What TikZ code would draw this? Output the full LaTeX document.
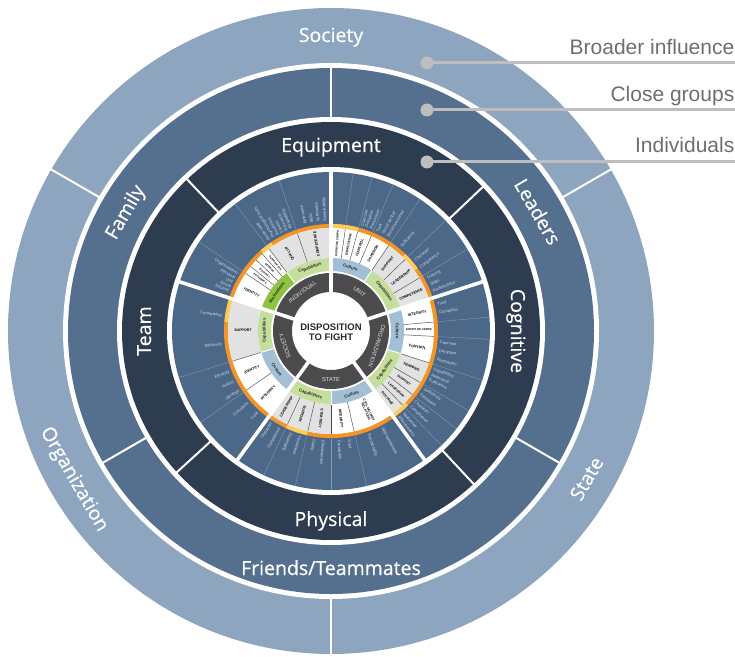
\documentclass[tikz,border=0pt]{standalone}
\usepackage{fontspec}
\setmainfont{Liberation Sans}
\newfontfamily\ringfont[FakeBold=0.5]{Open Sans}
\definecolor{outerc}{HTML}{8EA5BF}
\definecolor{closec}{HTML}{55708F}
\definecolor{darkc}{HTML}{2D3C4F}
\definecolor{bandc}{HTML}{4C6889}
\definecolor{orangec}{HTML}{F39426}
\definecolor{yellowc}{HTML}{FCCB58}
\definecolor{capc}{HTML}{C6DE9B}
\definecolor{motc}{HTML}{8CC441}
\definecolor{culc}{HTML}{A2BFD5}
\definecolor{greyringc}{HTML}{4B4B4D}
\definecolor{wordc}{HTML}{D3DCE6}
\definecolor{secgrey}{HTML}{E2E2E2}
\definecolor{seplinec}{HTML}{8399B3}
\definecolor{legtextc}{HTML}{6E6E70}
\definecolor{leglinec}{HTML}{BEBEBE}
\definecolor{centertextc}{HTML}{2A2A2A}
\newcounter{nn}
\newcommand{\annsec}[5]{\fill[#1] (#4:#3) arc[start angle=#4,end angle=#5,radius=#3] -- (#5:#2) arc[start angle=#5,end angle=#4,radius=#2] -- cycle;}
\newcommand{\bword}[2]{%
 \stepcounter{nn}%
 \pgfmathsetmacro{\myang}{mod(#1+540,360)-180}%
 \pgfmathtruncatemacro{\myout}{(\myang>-110 && \myang<128) ? 1 : 0}%
 \ifnum\myout=1
  \node[bwordst,rotate=#1,anchor=west] (bw\arabic{nn}) at (#1:109.5) {#2};%
 \else
  \node[bwordst,rotate=#1+180,anchor=east] (bw\arabic{nn}) at (#1:109.5) {#2};%
 \fi}
\newcommand{\ulab}[3][3.6]{%
 \stepcounter{nn}%
 \pgfmathsetmacro{\myang}{mod(#2+540,360)-180}%
 \pgfmathtruncatemacro{\myout}{(\myang>-110 && \myang<128) ? 1 : 0}%
 \ifnum\myout=1 \pgfmathsetmacro{\myrot}{#2}\else\pgfmathsetmacro{\myrot}{#2+180}\fi
 \node[ulabst,font=\bfseries\fontsize{#1}{#1}\selectfont,rotate=\myrot] (ul\arabic{nn}) at (#2:88) {#3};}
\newcommand{\tlab}[4]{%
 \stepcounter{nn}%
 \pgfmathsetmacro{\myang}{mod(#2+540,360)-180}%
 \pgfmathtruncatemacro{\myout}{(\myang>=-20 || \myang<=-160) ? 1 : 0}%
 \ifnum\myout=1 \pgfmathsetmacro{\myrot}{#2-90}\else\pgfmathsetmacro{\myrot}{#2+90}\fi
 \node[#1,rotate=\myrot] (tl\arabic{nn}) at (#2:#3) {#4};}
\begin{document}
\begin{tikzpicture}[x=1pt,y=1pt,
  divline/.style={white,line width=2pt},
  majsep/.style={white,line width=3.6pt},
  secline/.style={draw=black!70,line width=0.45pt},
  bandline/.style={draw=seplinec,line width=0.4pt},
  ringlab/.style={text=white,font=\ringfont\fontsize{19.5}{22}\selectfont,inner sep=0pt,text height=14pt,text depth=0pt},
  bwordst/.style={text=wordc,font=\fontsize{4.1}{5}\selectfont,inner sep=0pt},
  ulabst/.style={text=black,inner sep=0pt,align=center},
  clabst/.style={text=black!85,font=\bfseries\fontsize{4.3}{5}\selectfont,inner sep=0pt},
  glabst/.style={text=white!88!black,font=\fontsize{5.8}{6}\selectfont,inner sep=0pt,text height=4.2pt,text depth=0pt},
  legtext/.style={text=legtextc,font=\fontsize{21}{24}\selectfont,inner sep=0pt},
  legline/.style={draw=leglinec,line width=3pt},
  dotst/.style={circle,fill=leglinec,minimum size=13pt,inner sep=0pt},
]
\useasboundingbox (-331,-325) rectangle (404,331);
% rings
\fill[outerc] (0,0) circle[radius=323];
\fill[white] (0,0) circle[radius=268];
\fill[closec] (0,0) circle[radius=263];
\fill[white] (0,0) circle[radius=214];
\fill[darkc] (0,0) circle[radius=209];
\fill[white] (0,0) circle[radius=164];
\fill[bandc] (0,0) circle[radius=159];
\fill[orangec] (0,0) circle[radius=107];
\foreach \a/\b in {75/90,36/46,-54/-44,245/257,162/175,124/131}{\annsec{yellowc}{103}{107}{\a}{\b}}
\fill[white] (0,0) circle[radius=103];
\foreach \a/\b in {90/127,18/56,-54/-18,234/270,162/197}{\annsec{secgrey}{73}{103}{\a}{\b}\annsec{capc}{60}{73}{\a}{\b}}
\foreach \a/\b in {56/90,-18/18,270/306,197/234}{\annsec{culc}{60}{73}{\a}{\b}}
\annsec{motc}{60}{73}{127}{162}
\fill[greyringc,even odd rule] (0,0) circle[radius=58] (0,0) circle[radius=39];
% separators
\foreach \a in {109,127,131.75,136.5,141.25,146,82,75,67,56,44,31,5,-3,-18,-30,-38,-46,245,257,270,283,197,215}{\draw[secline] (\a:73) -- (\a:103);}
\foreach \a in {109,127,146,82,75,67,56,44,31,5,-3,-18,-30,-38,-46,245,257,270,283,197,215}{\draw[bandline] (\a:107.5) -- (\a:159);}
\foreach \a in {127,56,-18,270,197}{\draw[white,line width=0.9pt] (\a:59) -- (\a:73.5);}
\foreach \a in {90,18,-54,234,162}{\draw[majsep] (\a:36) -- (\a:160);}
\foreach \a in {30,150,270}{\draw[divline] (\a:266) -- (\a:325);}
\foreach \a in {90,210,330}{\draw[divline] (\a:212) -- (\a:265);}
\foreach \a in {43.5,133.5,222.5,313}{\draw[divline] (\a:162) -- (\a:211);}
% ring labels
\tlab{ringlab}{90}{296}{Society}
\tlab{ringlab}{210}{295}{Organization}
\tlab{ringlab}{330}{295}{State}
\tlab{ringlab}{150}{238.5}{Family}
\tlab{ringlab}{30}{238.5}{Leaders}
\tlab{ringlab}{270}{237}{Friends/Teammates}
\tlab{ringlab}{90}{186}{Equipment}
\tlab{ringlab}{180}{187}{Team}
\tlab{ringlab}{270}{188}{Physical}
\tlab{ringlab}{0}{187}{Cognitive}
% blue band words
\foreach \a/\t in {93/Sustainability,96.5/Sufficiency,100/Skills,103.5/Relevance,111.5/Adaptability,114/Education,116.5/Fitness,119/Resilience,121.5/Psychological traits,124.5/Social skills,148.5/Organizational,151/Personal,153.5/Unit,156/Social,158.5/Societal}{\bword{\a}{\t}}
\foreach \a/\t in {73.5/Coercion,71/Discipline,68.5/Persuasion,65/Task,62/Social vertical,59/Social horizontal,50/Sufficiency,40/Character,35.5/Competence,28.5/Training,25/Skills,21.5/Performance}{\bword{\a}{\t}}
\foreach \a/\t in {14/Trust,9.5/Corruption,-6/Coercion,-10.5/Discipline,-15/Persuasion,-20.5/Capabilities,-23.5/Relevance,-26.5/Sufficiency,-32/Sufficiency,-35.5/Timeliness,-40/Character,-43.5/Competence,-48.5/Relevance,-51.5/Effectiveness}{\bword{\a}{\t}}
\foreach \a/\t in {237/Character,242/Competence,248.5/Sufficiency,253.5/Timeliness,261/Clarity,266/Effectiveness,274/Corruption,279.5/Trust,290/Functionality,298/Appropriateness}{\bword{\a}{\t}}
\foreach \a/\t in {172/Consistency,187/Efficiency,202/Ethnicity,207.5/History,213/Ideology,221/Corruption,228/Trust}{\bword{\a}{\t}}
% factor labels
\ulab{99.5}{COMPETENCE}
\ulab{118}{QUALITY}
\ulab[2.5]{129.4}{DESPERATION}
\ulab[2.5]{134.1}{REVENGE}
\ulab[2.5]{138.9}{IDEOLOGY}
\ulab[2.5]{143.6}{ECONOMICS}
\ulab{154}{IDENTITY}
\ulab[2.8]{86}{ESPRIT DE CORPS}
\ulab[3.2]{78.5}{EXPECTATION}
\ulab{71}{CONTROL}
\ulab{61.5}{COHESION}
\ulab{50}{SUPPORT}
\ulab{37.5}{LEADERSHIP}
\ulab{24.5}{COMPETENCE}
\ulab{11.5}{INTEGRITY}
\ulab[2.8]{1}{ESPRIT DE CORPS}
\ulab{-10.5}{CONTROL}
\ulab{-24}{TRAINING}
\ulab[3.2]{-34}{SUPPORT}
\ulab[3.2]{-42}{LEADERSHIP}
\ulab[3.2]{-50}{DOCTRINE}
\ulab{239.5}{LEADERSHIP}
\ulab{251}{SUPPORT}
\ulab{263.5}{STRATEGY}
\ulab{276.5}{INTEGRITY}
\ulab[3.2]{294.5}{CIVIL-MILITARY\\RELATIONS}
\ulab{179.5}{SUPPORT}
\ulab{206}{IDENTITY}
\ulab{224.5}{INTEGRITY}
% band labels
\tlab{clabst}{108.5}{66.5}{Capabilities}
\tlab{clabst}{144.5}{66.5}{Motivations}
\tlab{clabst}{73}{66.5}{Culture}
\tlab{clabst}{37}{66.5}{Capabilities}
\tlab{clabst}{0}{66.5}{Culture}
\tlab{clabst}{-36}{66.5}{Capabilities}
\tlab{clabst}{252}{66.5}{Capabilities}
\tlab{clabst}{288}{66.5}{Culture}
\tlab{clabst}{179.5}{66.5}{Capabilities}
\tlab{clabst}{215.5}{66.5}{Culture}
% level labels
\tlab{glabst}{126}{48.5}{INDIVIDUAL}
\tlab{glabst}{54}{48.5}{UNIT}
\tlab{glabst}{-18}{48.5}{ORGANIZATION}
\tlab{glabst}{270}{48.5}{STATE}
\tlab{glabst}{198}{48.5}{SOCIETY}
% centre
\node[text=centertextc,font=\bfseries\fontsize{9.5}{10}\selectfont,align=center,inner sep=0pt] (centre) at (0,-1.5) {DISPOSITION\\TO FIGHT};
% legend
\coordinate (c1) at (96,268);
\coordinate (c2) at (96,221);
\coordinate (c3) at (96,169);
\coordinate (e1) at (404,268);
\coordinate (e2) at (404,221);
\coordinate (e3) at (404,169);
\draw[legline] (c1) -- (e1);
\draw[legline] (c2) -- (e2);
\draw[legline] (c3) -- (e3);
\node[dotst] (d1) at (c1) {};
\node[dotst] (d2) at (c2) {};
\node[dotst] (d3) at (c3) {};
\node[legtext,anchor=base east] (l1) at (403.5,276) {Broader influence};
\node[legtext,anchor=base east] (l2) at (403.5,229) {Close groups};
\node[legtext,anchor=base east] (l3) at (403.5,178.5) {Individuals};
\end{tikzpicture}
\end{document}
